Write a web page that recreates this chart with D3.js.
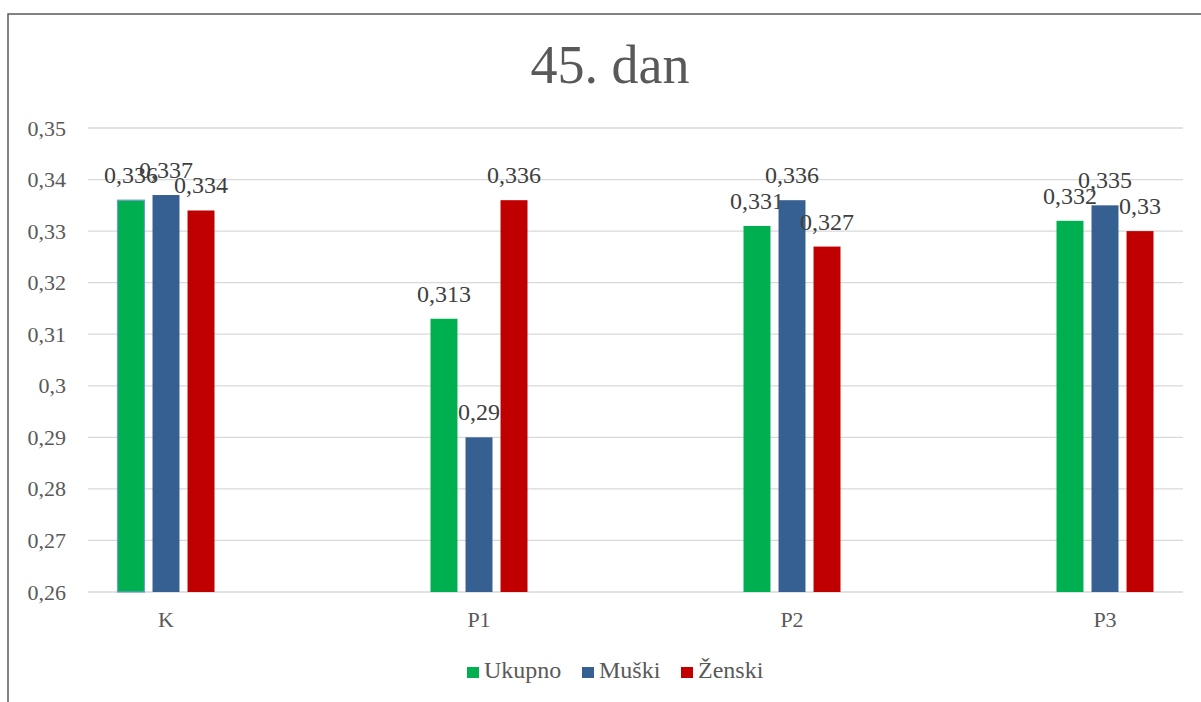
<!DOCTYPE html>
<html><head><meta charset="utf-8">
<script src="https://cdn.jsdelivr.net/npm/d3@7"></script>
<style>body{margin:0;background:#fff}svg{display:block}
text{font-family:"Liberation Serif","Times New Roman",serif}</style>
</head><body>
<svg id="c" width="1201" height="702"></svg>
<script>
const categories = ["K", "P1", "P2", "P3"];
const seriesNames = ["Ukupno", "Muški", "Ženski"];
const ukupno = [0.336, 0.313, 0.331, 0.332];
const muski  = [0.337, 0.290, 0.336, 0.335];
const zenski = [0.334, 0.336, 0.327, 0.330];
const yTicks = [0.26, 0.27, 0.28, 0.29, 0.30, 0.31, 0.32, 0.33, 0.34, 0.35];
const colors = ["#00B050", "#376092", "#C00000"];
const title = "45. dan";

const series = [ukupno, muski, zenski];
const svg = d3.select("#c");
const txt = "#595959";

// border
svg.append("rect").attr("x", 8).attr("y", 14).attr("width", 1250).attr("height", 750)
  .attr("fill", "none").attr("stroke", "#5a5a5a").attr("stroke-width", 1.5);

const y = d3.scaleLinear().domain([0.26, 0.35]).range([592, 128]);
const x = d3.scalePoint().domain(categories).range([166, 1105]);
const xs = d3.scaleBand().domain(seriesNames).range([-48.5, 48.5]).paddingInner(0.23);

// gridlines
svg.append("g").selectAll("line").data(yTicks).join("line")
  .attr("x1", 88).attr("x2", 1183)
  .attr("y1", d => y(d)).attr("y2", d => y(d))
  .attr("stroke", "#d9d9d9").attr("stroke-width", 1.3);

// y tick labels
svg.append("g").selectAll("text").data(yTicks).join("text")
  .attr("x", 66).attr("y", d => y(d) + 7.5)
  .attr("text-anchor", "end").attr("font-size", 22)
  .attr("fill", txt).text(d => d3.format(".2~f")(d).replace(".", ","));

// bars
series.forEach((vals, si) => {
  const g = svg.append("g");
  g.selectAll("rect").data(vals).join("rect")
    .attr("x", (d, i) => x(categories[i]) + xs(seriesNames[si]))
    .attr("width", xs.bandwidth())
    .attr("y", d => y(d)).attr("height", d => y(0.26) - y(d))
    .attr("fill", colors[si])
    .attr("stroke", (d, i) => (si === 0 && i === 0) ? "#6f9bd1" : "none")
    .attr("stroke-width", 1.2);
  g.selectAll("text").data(vals).join("text")
    .attr("x", (d, i) => x(categories[i]) + xs(seriesNames[si]) + xs.bandwidth() / 2)
    .attr("y", d => y(d) - 17)
    .attr("text-anchor", "middle").attr("font-size", 24)
    .attr("fill", "#404040").text(d => String(d).replace(".", ","));
});

// x labels
svg.append("g").selectAll("text").data(categories).join("text")
  .attr("x", d => x(d)).attr("y", 627)
  .attr("text-anchor", "middle").attr("font-size", 22)
  .attr("fill", txt).text(d => d);

// title
svg.append("text").attr("x", 610).attr("y", 83).attr("text-anchor", "middle")
  .attr("font-size", 54).attr("fill", txt).text(title);

// legend
const legX = [467, 582, 681];
const leg = svg.append("g");
seriesNames.forEach((n, i) => {
  leg.append("rect").attr("x", legX[i]).attr("y", 667).attr("width", 12).attr("height", 11).attr("fill", colors[i]);
  leg.append("text").attr("x", legX[i] + 17).attr("y", 678)
    .attr("font-size", 24).attr("fill", txt).text(n);
});
</script>
</body></html>
